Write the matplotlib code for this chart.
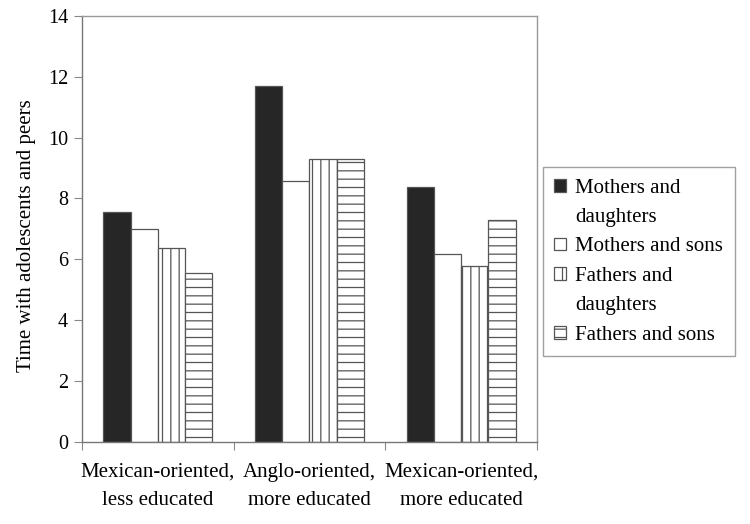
import matplotlib

matplotlib.use("Agg")
import matplotlib.pyplot as plt
from matplotlib.patches import Rectangle
import numpy as np

categories = ["Mexican-oriented,\nless educated", "Anglo-oriented,\nmore educated",
              "Mexican-oriented,\nmore educated"]
series = ["Mothers and\ndaughters", "Mothers and sons", "Fathers and\ndaughters",
          "Fathers and sons"]
mothers_daughters = [7.55, 11.71, 8.36]
mothers_sons = [7.0, 8.56, 6.17]
fathers_daughters = [6.38, 9.29, 5.79]
fathers_sons = [5.56, 9.29, 7.29]
yticks = [0, 2, 4, 6, 8, 10, 12, 14]

values = [mothers_daughters, mothers_sons, fathers_daughters, fathers_sons]
faces = ["#262626", "white", "white", "white"]
hatches = [None, None, "||", "--"]

plt.rcParams["font.family"] = ["Liberation Serif", "DejaVu Serif"]
plt.rcParams["hatch.color"] = "#555555"
plt.rcParams["hatch.linewidth"] = 0.9

fig = plt.figure(figsize=(7.5, 5.24), dpi=100)
ax = fig.add_axes([0.1093, 0.157, 0.6067, 0.8125])

x = np.arange(len(categories))
w = 0.18
bars = []
for i, (vals, fc, h) in enumerate(zip(values, faces, hatches)):
    b = ax.bar(x + (i - 1.5) * w, vals, w, color=fc, edgecolor="#555555",
               linewidth=0.9, hatch=h)
    bars.append(b)

ax.set_xlim(-0.5, 2.5)
ax.set_ylim(0, 14)
ax.set_yticks(yticks)
ax.set_xticks([-0.5, 0.5, 1.5, 2.5])
ax.set_xticklabels([])
ax.set_xticks(x, minor=True)
ax.set_xticklabels(categories, minor=True, fontsize=15, linespacing=1.65)
ax.tick_params(axis="x", which="minor", length=0, pad=15)
ax.tick_params(axis="x", which="major", length=6, color="#888888", direction="out")
ax.tick_params(axis="y", length=6, color="#888888", direction="out", labelsize=14.5,
               pad=4)
for s in ax.spines.values():
    s.set_color("#999999")
    s.set_linewidth(1.0)
ax.spines["left"].set_color("#777777")
ax.spines["bottom"].set_color("#777777")

ax.set_ylabel("Time with adolescents and peers", fontsize=15)
ax.yaxis.set_label_coords(-0.102, 0.485)

# one legend row per text line, so each swatch sits on the first line of its label
handles, labels = [], []
blank = Rectangle((0, 0), 1, 1, fill=False, edgecolor="none")
for b, name in zip(bars, series):
    lines = name.split("\n")
    handles.append(b[0])
    labels.append(lines[0])
    for extra in lines[1:]:
        handles.append(blank)
        labels.append(extra)

leg = fig.legend(handles, labels, loc="upper left", bbox_to_anchor=(0.724, 0.681),
                 fontsize=15, frameon=True, fancybox=False, edgecolor="#888888",
                 handlelength=0.55, handleheight=0.55, handletextpad=0.45,
                 labelspacing=0.5, borderpad=0.55, borderaxespad=0)
leg.get_frame().set_linewidth(1.0)

fig.savefig("out.png", dpi=100)
